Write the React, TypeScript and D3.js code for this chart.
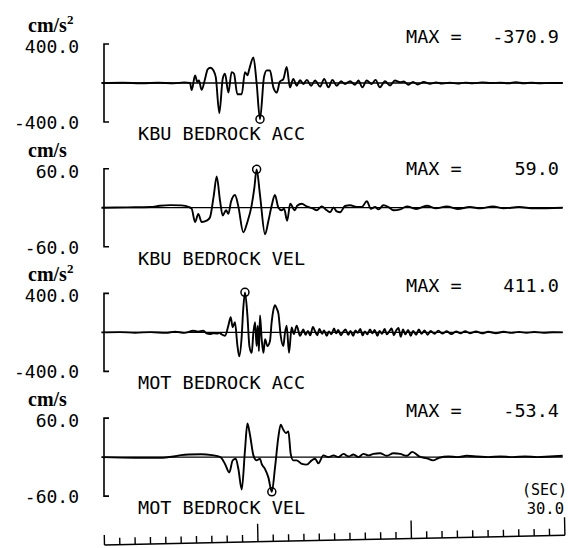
import * as d3 from 'd3';

// time in seconds, values in cm/s^2 or cm/s
const kbuAcc: [number, number][] = [
  [-0.2, 0], [1.2, 3], [2.4, -2], [3.5, 3], [4.5, -4], [5.2, 6], [5.57, 0], [5.68, -73], [5.9, 77],
  [6.05, 10], [6.15, 25], [6.33, -70], [6.55, 42], [6.72, 140], [6.9, 157], [7.09, 130], [7.25, 60],
  [7.48, -308], [7.7, 42], [7.85, 95], [8.07, -98], [8.28, 112], [8.44, 95], [8.65, -115], [8.94, -115],
  [9.15, 112], [9.31, 80], [9.44, 147], [9.7, 262], [9.91, 0], [10.13, -370.9], [10.39, 60], [10.57, 130],
  [10.78, 128], [11.0, -45], [11.22, -98], [11.43, 15], [11.65, 40], [11.87, 165], [12.08, -45],
  [12.3, 42], [12.52, -28], [12.74, 30], [12.95, -10], [13.18, 32], [13.46, -28], [13.72, 25],
  [14.05, -38], [14.31, 42], [14.59, -45], [14.85, 32], [15.13, -28], [15.41, 18], [15.67, -10],
  [16.0, 18], [16.32, -18], [16.54, 25], [16.8, -45], [17.08, 25], [17.4, -10], [17.66, 32],
  [17.94, -45], [18.27, 18], [18.6, -25], [18.92, 25], [19.26, 8], [19.5, 15], [19.8, -18], [20.1, 12],
  [20.4, -15], [20.8, 10], [21.2, -8], [21.6, 5], [22.0, -5], [22.5, 3], [23.0, -6], [23.5, 4],
  [24.0, -3], [24.6, 6], [25.2, 0], [25.8, 3], [26.3, -3], [26.8, 8], [27.3, -2], [27.8, 2], [28.4, -2],
  [29.0, 0], [29.85, 0],
];

const kbuVel: [number, number][] = [
  [-0.2, 0], [1.5, 0.5], [3.0, 1], [3.6, 3], [4.3, 4], [5.0, 3.5], [5.5, 1], [5.68, -1.6], [5.9, -22],
  [6.11, -9.5], [6.33, -22], [6.65, -20], [6.87, -15], [7.12, 19], [7.31, 48], [7.53, 10], [7.7, -12],
  [7.92, -4], [8.07, -9.5], [8.24, 9], [8.5, 19.5], [8.72, 2], [9.04, -38], [9.31, -22], [9.59, 4],
  [9.76, 30], [9.91, 59], [10.13, 19.5], [10.46, -41], [10.68, -20], [10.9, 4], [11.1, 19.5],
  [11.33, 0], [11.54, -4], [11.7, -1.6], [11.9, -20], [12.1, 6], [12.4, -4], [12.55, 3], [12.85, 6],
  [13.17, 2], [13.6, -1.6], [13.82, -4], [14.15, 2], [14.48, -4], [14.7, -7], [14.92, 0.5],
  [15.13, -5.8], [15.35, -7], [15.67, 2.6], [16.0, 3.7], [16.43, 1], [16.76, 1], [17.09, 10],
  [17.35, -1.6], [17.63, 1], [17.85, -2.6], [18.17, 3.7], [18.5, 1], [18.83, -4], [19.26, -2.6],
  [19.7, 2], [20.3, -2], [21.0, 3], [21.6, -1], [22.3, 2], [23.0, -2], [23.8, 1], [24.5, -1],
  [25.3, 2], [26.0, -1], [27.0, 1], [28.0, -1], [29.85, 0],
];

const motAcc: [number, number][] = [
  [-0.2, 0], [1.0, 3], [2.0, -3], [3.0, 3], [4.0, -4], [4.6, 8], [5.2, -5], [5.79, 17], [6.1, 8],
  [6.44, 17], [6.65, -10], [6.87, -17], [7.1, -8], [7.31, -12], [7.5, -5], [7.63, -20], [7.85, -35],
  [8.07, 70], [8.22, 157], [8.35, 52], [8.5, 105], [8.65, -122], [8.78, -245], [8.94, -35], [9.04, 245],
  [9.15, 411], [9.31, 175], [9.44, -140], [9.59, -210], [9.7, 0], [9.81, 105], [9.91, -140],
  [9.98, 70], [10.06, -192], [10.13, 175], [10.24, -70], [10.35, -210], [10.46, -70], [10.61, -140],
  [10.78, -88], [10.89, 105], [11.0, 228], [11.11, 280], [11.22, 245], [11.33, 192], [11.48, -35],
  [11.65, -140], [11.76, 0], [11.87, 70], [12.02, -210], [12.19, 52], [12.34, -17], [12.52, 70],
  [12.74, -35], [12.95, 30], [13.1, -25], [13.25, 15], [13.4, -30], [13.58, 55], [13.72, 10],
  [13.86, -30], [14.0, 35], [14.18, -15], [14.3, 20], [14.48, -35], [14.62, 10], [14.78, -20],
  [14.95, 40], [15.1, -10], [15.22, 25], [15.4, -30], [15.55, 5], [15.7, 30], [15.88, -25],
  [16.02, 15], [16.2, -35], [16.35, 20], [16.5, -5], [16.66, 35], [16.82, -30], [16.96, 10],
  [17.12, -20], [17.3, 30], [17.45, -10], [17.6, 25], [17.78, -35], [17.92, 15], [18.08, -15],
  [18.25, 35], [18.4, -20], [18.55, 10], [18.7, 40], [18.85, -30], [19.0, 20], [19.15, 45],
  [19.3, -45], [19.45, 30], [19.6, -20], [19.78, 25], [19.95, -35], [20.1, 15], [20.3, -25],
  [20.48, 30], [20.65, -15], [20.85, 20], [21.05, -25], [21.25, 15], [21.5, -15], [21.75, 18],
  [22.0, -12], [22.3, 12], [22.6, -18], [22.9, 10], [23.2, -10], [23.5, 12], [23.8, -8], [24.2, 10],
  [24.6, -10], [25.0, 6], [25.5, -8], [26.0, 6], [26.5, -5], [27.0, 5], [27.5, -4], [28.0, 4],
  [28.6, -3], [29.2, 2], [29.85, 0],
];

const motVel: [number, number][] = [
  [-0.2, 0], [2.0, -1], [3.6, -1], [4.5, 1], [5.0, 3], [5.5, 4], [6.3, 4.5], [7.0, 3], [7.55, 0],
  [7.85, -10.5], [8.13, -23.7], [8.35, -5], [8.55, -2.6], [8.72, -18], [8.94, -50], [9.15, 10],
  [9.31, 51.6], [9.48, 34], [9.7, 2.6], [9.91, -5], [10.13, -2.6], [10.24, -10.5], [10.46, -18.4],
  [10.68, -31.6], [10.9, -53.4], [11.11, -15.8], [11.33, 31.6], [11.48, 50], [11.65, 42],
  [11.82, 37], [11.98, 39.5], [12.13, 5], [12.3, -5], [12.52, -5], [12.85, -10.5], [13.17, -11.6],
  [13.5, -5], [13.72, -2.6], [13.93, -9.5], [14.26, 2.6], [14.59, 0], [14.92, 2.6], [15.24, 0],
  [15.57, 5], [15.9, 1], [16.22, 4], [16.54, 0], [16.87, 5], [17.2, 2.6], [17.52, 5], [17.95, 6],
  [18.39, 2], [18.82, 6], [19.26, 5], [19.7, 2], [20.05, 8], [20.5, 1], [21.0, -2], [21.4, -5],
  [21.8, -1], [22.4, 1], [23.0, 0], [23.6, 2], [24.3, 1], [25.0, 0], [25.8, 1], [26.6, 0],
  [27.4, 1], [28.2, 0], [29.0, 1], [29.85, 2],
];

const series = [kbuAcc, kbuVel, motAcc, motVel];
const stationLabels = ['KBU BEDROCK ACC', 'KBU BEDROCK VEL', 'MOT BEDROCK ACC', 'MOT BEDROCK VEL'];
const units = ['cm/s2', 'cm/s', 'cm/s2', 'cm/s'];
const scaleMax = [400, 60, 400, 60];
const maxValues = [-370.9, 59.0, 411.0, -53.4];
const peakTimes = [10.13, 9.91, 9.15, 10.9];
const timeTicks = d3.range(0, 31);

const mono = '"DejaVu Sans Mono", monospace';
const fmt = (v: number) => v.toFixed(1);

export default function App() {
  const x = d3.scaleLinear().domain([0, 30]).range([104.5, 565]);
  const zeroOf = (i: number) => 83 + i * 124.7;
  // the MAX line of the second panel sits a little lower in the plot
  const maxDy = [-40, -33, -40, -40];

  return (
    <svg width={581} height={548} style={{ display: 'block', background: '#fff' }}>
      <style>{'body{margin:0}'}</style>
      {series.map((data, i) => {
        const z = zeroOf(i);
        const y = d3.scaleLinear().domain([-scaleMax[i], scaleMax[i]]).range([z + 39, z - 39]);
        const line = d3
          .line<[number, number]>()
          .x((d) => x(d[0]))
          .y((d) => y(d[1]))
          .curve(d3.curveMonotoneX);
        const isSq = units[i].endsWith('2');
        return (
          <g key={i}>
            <text x={28} y={z - 51} fontFamily='"Liberation Serif", serif' fontWeight="bold" fontSize={20}>
              cm/s
              {isSq && (
                <tspan dy={-8} fontSize={13}>
                  2
                </tspan>
              )}
            </text>
            <text x={79} y={z - 30} textAnchor="end" fontFamily={mono} fontSize={18}>
              {fmt(scaleMax[i])}
            </text>
            <text x={79} y={z + 46} textAnchor="end" fontFamily={mono} fontSize={18}>
              {fmt(-scaleMax[i])}
            </text>
            <path
              d={`M109,${y(scaleMax[i])}H104V${y(-scaleMax[i])}H109`}
              fill="none"
              stroke="#000"
              strokeWidth={1.6}
            />
            <line x1={104} x2={x(29.85)} y1={y(0)} y2={y(0)} stroke="#000" strokeWidth={1.3} />
            <path d={line(data) ?? ''} fill="none" stroke="#000" strokeWidth={1.9} strokeLinejoin="round" />
            <circle cx={x(peakTimes[i])} cy={y(maxValues[i])} r={4} fill="none" stroke="#000" strokeWidth={1.5} />
            <text x={406} y={z + maxDy[i]} fontFamily={mono} fontSize={18.5}>
              MAX =
            </text>
            <text x={559} y={z + maxDy[i]} textAnchor="end" fontFamily={mono} fontSize={18.5}>
              {fmt(maxValues[i])}
            </text>
            <text x={138} y={z + 57} fontFamily={mono} fontSize={18.5}>
              {stationLabels[i]}
            </text>
          </g>
        );
      })}
      {/* time ruler, 1 s ticks */}
      <g transform={`rotate(-1.2, ${x(0)}, 545)`}>
        <line x1={x(0)} x2={x(30)} y1={545} y2={545} stroke="#000" strokeWidth={1.5} />
        {timeTicks.map((t) => (
          <line
            key={t}
            x1={x(t)}
            x2={x(t)}
            y1={545}
            y2={t % 10 === 0 && t > 0 ? 527 : t === 0 ? 535 : 538}
            stroke="#000"
            strokeWidth={1.4}
          />
        ))}
      </g>
      <text x={522} y={495} fontFamily={mono} fontSize={15}>
        (SEC)
      </text>
      <text x={564} y={514} textAnchor="end" fontFamily={mono} fontSize={15.5}>
        30.0
      </text>
    </svg>
  );
}
